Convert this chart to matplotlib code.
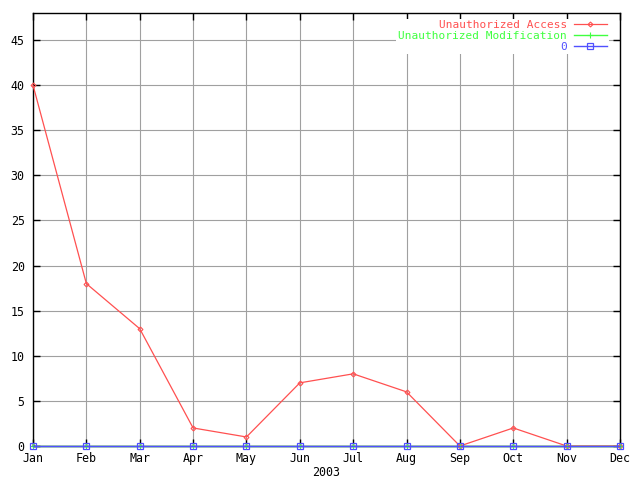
import matplotlib
matplotlib.use("Agg")
import matplotlib.pyplot as plt

months = ["Jan", "Feb", "Mar", "Apr", "May", "Jun", "Jul", "Aug", "Sep", "Oct", "Nov", "Dec"]
unauth_access = [40, 18, 13, 2, 1, 7, 8, 6, 0, 2, 0, 0]
unauth_modification = [0, 0, 0, 0, 0, 0, 0, 0, 0, 0, 0, 0]
zero_series = [0, 0, 0, 0, 0, 0, 0, 0, 0, 0, 0, 0]
yticks = [0, 5, 10, 15, 20, 25, 30, 35, 40, 45]

plt.rcParams["font.family"] = ["DejaVu Sans Mono"]
plt.rcParams["font.size"] = 8.4

fig = plt.figure(figsize=(6.4, 4.8), dpi=100)
ax = fig.add_axes([33 / 640, 34 / 480, 587 / 640, 433 / 480])

x = list(range(len(months)))
red, green, blue = "#ff5050", "#40ff40", "#5050ff"
ax.plot(x, unauth_access, color=red, lw=0.9, marker="D", ms=2.5, mfc="none", mec=red,
        mew=0.8, label="Unauthorized Access", clip_on=False, zorder=3)
ax.plot(x, unauth_modification, color=green, lw=1.0, marker="+", ms=5, mew=0.8,
        label="Unauthorized Modification", clip_on=False, zorder=4)
ax.plot(x, zero_series, color=blue, lw=1.0, marker="s", ms=5, mfc="none", mec=blue,
        mew=0.9, label="0", clip_on=False, zorder=5)

ax.set_xlim(0, len(months) - 1)
ax.set_ylim(0, 48)
ax.set_xticks(x, months)
ax.set_yticks(yticks)
ax.grid(True, color="#a0a0a0", lw=0.8)
ax.set_axisbelow(True)
ax.tick_params(direction="in", length=5, width=1, top=True, right=True, pad=4)
ax.tick_params(axis="y", pad=6)
ax.set_xlabel("2003", labelpad=1)
for s in ax.spines.values():
    s.set_linewidth(1.0)

leg = ax.legend(loc="upper right", markerfirst=False, frameon=True, fancybox=False,
                edgecolor="none", facecolor="white", framealpha=1.0, borderpad=0.15,
                labelspacing=0.08, handlelength=3.0, handletextpad=0.6, fontsize=8.0,
                bbox_to_anchor=(0.99, 1.0))
leg.set_zorder(6)
for text, col in zip(leg.get_texts(), [red, green, blue]):
    text.set_color(col)

fig.savefig("out.png", dpi=100)
